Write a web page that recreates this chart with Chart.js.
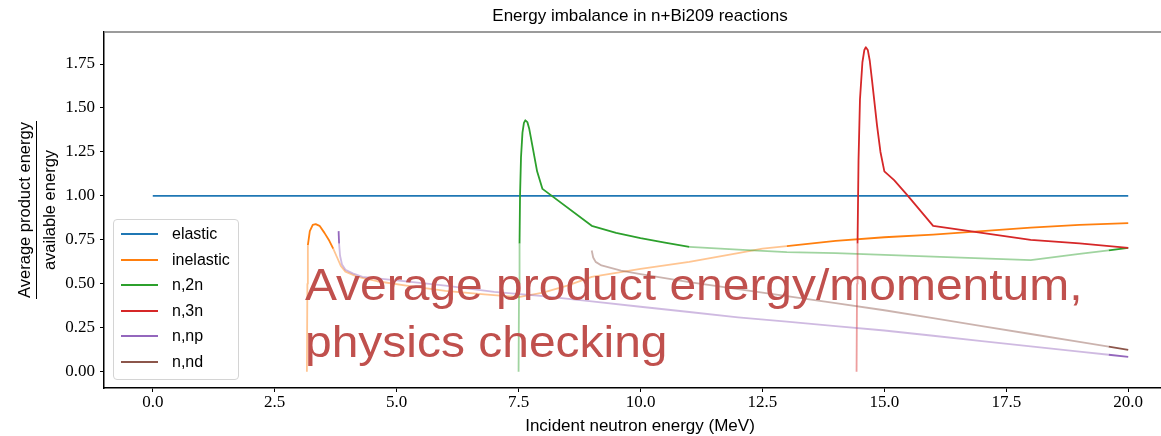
<!DOCTYPE html>
<html lang="en">
<head>
  <meta charset="UTF-8" />
  <title>Energy imbalance in n+Bi209 reactions</title>
  <script src="https://cdn.jsdelivr.net/npm/chart.js"></script>
  <style>
    body { margin: 0; background: #fff; }
    #wrap { position: relative; width: 1161px; height: 436px; overflow: hidden; }
    #title { position: absolute; left: 0; top: 6px; width: 1280px; text-align: center;
             font: 17px 'Liberation Sans', Arial, sans-serif; color: #000; }
    #xlab { position: absolute; left: 0; top: 416px; width: 1280px; text-align: center;
            font: 17px 'Liberation Sans', Arial, sans-serif; color: #000; }
    #ylab { position: absolute; left: -63px; top: 188px; width: 200px; height: 44px;
            transform: rotate(-90deg); text-align: center; line-height: 19px;
            font: 16.5px 'Liberation Sans', Arial, sans-serif; color: #000; }
    #ylab .num { display: inline-block; border-bottom: 1px solid #000; padding: 0 1px 2px; }
    #ylab .den { display: block; margin-top: 3px; }
    #legend { position: absolute; left: 113px; top: 219px; width: 124px; height: 159px;
              border: 1px solid #d4d4d4; border-radius: 4px; background: rgba(255,255,255,0.85);
              font: 16px 'Liberation Sans', Arial, sans-serif; }
    .row { position: absolute; left: 0; height: 20px; }
    .row i { position: absolute; left: 7px; top: 9px; width: 37px; height: 2px; }
    .row span { position: absolute; left: 58px; top: 0; line-height: 20px; white-space: nowrap; }
    #note { position: absolute; left: 305px; top: 256px; color: #c0504d;
            font: 44px 'Liberation Sans', Arial, sans-serif; line-height: 57px; white-space: nowrap;
            transform: scaleX(1.09); transform-origin: left top; }
  </style>
</head>
<body>
<div id="wrap">
  <canvas id="chart" width="1280" height="436"></canvas>
  <div id="title">Energy imbalance in n+Bi209 reactions</div>
  <div id="xlab">Incident neutron energy (MeV)</div>
  <div id="ylab"><span class="num">Average product energy</span><span class="den">available energy</span></div>
  <div id="legend"></div>
  <div id="note">Average product energy/momentum,<br>physics checking</div>
</div>

<script>
// incident energy (MeV) and ratio for each reaction
const elasticE = [0, 20];
const elasticR = [1.0, 1.0];

const inelasticE = [3.16, 3.17, 3.18, 3.22, 3.28, 3.34, 3.42, 3.52, 3.62, 3.7, 3.78, 3.86, 3.95, 4.2, 4.6, 5.2, 6.0, 6.8, 7.5, 8.0, 8.5, 9.0, 10.0, 11.0, 12.0, 12.5, 13.0, 14.0, 15.0, 16.0, 17.0, 18.0, 19.0, 20.0];
const inelasticR = [0.0, 0.5, 0.72, 0.80, 0.835, 0.84, 0.83, 0.79, 0.745, 0.70, 0.65, 0.60, 0.57, 0.54, 0.515, 0.49, 0.46, 0.44, 0.425, 0.45, 0.49, 0.54, 0.585, 0.625, 0.675, 0.70, 0.715, 0.745, 0.765, 0.78, 0.80, 0.82, 0.835, 0.845];

const n2nE = [7.50, 7.51, 7.52, 7.53, 7.55, 7.58, 7.61, 7.64, 7.68, 7.72, 7.78, 7.88, 7.99, 9.0, 9.5, 10.0, 10.5, 11.0, 12.0, 13.0, 14.0, 15.0, 16.0, 17.0, 18.0, 19.0, 19.6, 20.0];
const n2nR = [0.0, 0.5, 0.73, 1.0, 1.22, 1.36, 1.415, 1.43, 1.42, 1.38, 1.29, 1.14, 1.04, 0.83, 0.79, 0.76, 0.735, 0.71, 0.695, 0.68, 0.675, 0.665, 0.655, 0.645, 0.635, 0.67, 0.69, 0.705];

const n3nE = [14.43, 14.44, 14.45, 14.47, 14.50, 14.55, 14.59, 14.62, 14.66, 14.70, 14.75, 14.85, 14.92, 15.0, 15.2, 15.47, 16.0, 17.0, 18.0, 19.0, 20.0];
const n3nR = [0.0, 0.5, 0.73, 1.2, 1.55, 1.76, 1.83, 1.845, 1.83, 1.77, 1.65, 1.40, 1.25, 1.14, 1.09, 1.005, 0.83, 0.79, 0.75, 0.73, 0.705];

const nnpE = [3.81, 3.82, 3.84, 3.88, 3.95, 4.1, 4.3, 5.0, 6.0, 7.0, 8.0, 9.0, 10.0, 11.0, 12.0, 13.0, 14.0, 15.0, 16.0, 17.0, 18.0, 19.0, 19.6, 20.0];
const nnpR = [0.80, 0.73, 0.66, 0.61, 0.58, 0.56, 0.54, 0.52, 0.49, 0.455, 0.43, 0.40, 0.37, 0.34, 0.31, 0.285, 0.26, 0.235, 0.205, 0.175, 0.145, 0.115, 0.097, 0.085];

const nndE = [9.0, 9.03, 9.08, 9.2, 9.6, 10.0, 11.0, 12.0, 13.0, 14.0, 15.0, 16.0, 17.0, 18.0, 19.0, 19.6, 20.0];
const nndR = [0.69, 0.65, 0.625, 0.605, 0.575, 0.555, 0.51, 0.47, 0.43, 0.39, 0.35, 0.305, 0.26, 0.215, 0.17, 0.143, 0.125];

const seriesNames = ['elastic', 'inelastic', 'n,2n', 'n,3n', 'n,np', 'n,nd'];
const xTicks = [0, 2.5, 5, 7.5, 10, 12.5, 15, 17.5, 20];
const yTicks = [0, 0.25, 0.5, 0.75, 1.0, 1.25, 1.5, 1.75];

const colors = ['#1f77b4', '#ff7f0e', '#2ca02c', '#d62728', '#9467bd', '#8c564b'];
// parts of each curve drawn pale (energy ranges)
const pale = [
  [],
  [[-1, 3.18], [3.7, 13.0]],
  [[-1, 7.52], [11.0, 19.6]],
  [[-1, 14.45]],
  [[3.82, 19.6]],
  [[-1, 19.6]]
];
const xs = [elasticE, inelasticE, n2nE, n3nE, nnpE, nndE];
const ys = [elasticR, inelasticR, n2nR, n3nR, nnpR, nndR];

function fade(hex, a) {
  const n = parseInt(hex.slice(1), 16);
  return `rgba(${n >> 16},${(n >> 8) & 255},${n & 255},${a})`;
}

const datasets = seriesNames.map((name, i) => ({
  label: name,
  data: xs[i].map((x, k) => ({ x: x, y: ys[i][k] })),
  borderColor: colors[i],
  borderWidth: 1.8,
  pointRadius: 0,
  tension: 0,
  borderJoinStyle: 'round',
  order: -i,
  segment: {
    borderColor: ctx => {
      const m = (ctx.p0.parsed.x + ctx.p1.parsed.x) / 2;
      return pale[i].some(r => m > r[0] && m < r[1]) ? fade(colors[i], 0.45) : colors[i];
    }
  }
}));

const topSpine = {
  id: 'topSpine',
  afterDraw(chart) {
    const a = chart.chartArea, c = chart.ctx;
    c.save();
    c.strokeStyle = '#7a7a7a';
    c.lineWidth = 1.5;
    c.beginPath();
    c.moveTo(a.left, a.top);
    c.lineTo(a.right, a.top);
    c.stroke();
    c.restore();
  }
};

const tickFont = { family: "'Liberation Serif', 'Times New Roman', serif", size: 17 };

new Chart(document.getElementById('chart'), {
  type: 'line',
  data: { datasets },
  plugins: [topSpine],
  options: {
    responsive: false,
    animation: false,
    devicePixelRatio: 1,
    layout: { padding: { top: 32, right: 103, left: 0, bottom: 0 } },
    plugins: { legend: { display: false }, tooltip: { enabled: false } },
    scales: {
      x: {
        type: 'linear',
        min: -1, max: 21,
        afterBuildTicks: s => { s.ticks = xTicks.map(v => ({ value: v })); },
        afterFit: s => { s.height = 48; },
        border: { display: true, color: '#000', width: 1.5 },
        grid: { drawOnChartArea: false, tickLength: 4, tickColor: '#000' },
        ticks: { color: '#000', font: tickFont, padding: 0, maxRotation: 0,
                 callback: v => v.toFixed(1) }
      },
      y: {
        type: 'linear',
        min: -0.092, max: 1.932,
        afterBuildTicks: s => { s.ticks = yTicks.map(v => ({ value: v })); },
        afterFit: s => { s.width = 104; },
        border: { display: true, color: '#000', width: 1.5 },
        grid: { drawOnChartArea: false, tickLength: 4, tickColor: '#000' },
        ticks: { color: '#000', font: tickFont, padding: 5,
                 callback: v => v.toFixed(2) }
      }
    }
  }
});

// legend box
const leg = document.getElementById('legend');
seriesNames.forEach((name, i) => {
  const row = document.createElement('div');
  row.className = 'row';
  row.style.top = (4 + i * 25.6) + 'px';
  row.innerHTML = `<i style="background:${colors[i]}"></i><span>${name}</span>`;
  leg.appendChild(row);
});
</script>
</body>
</html>
